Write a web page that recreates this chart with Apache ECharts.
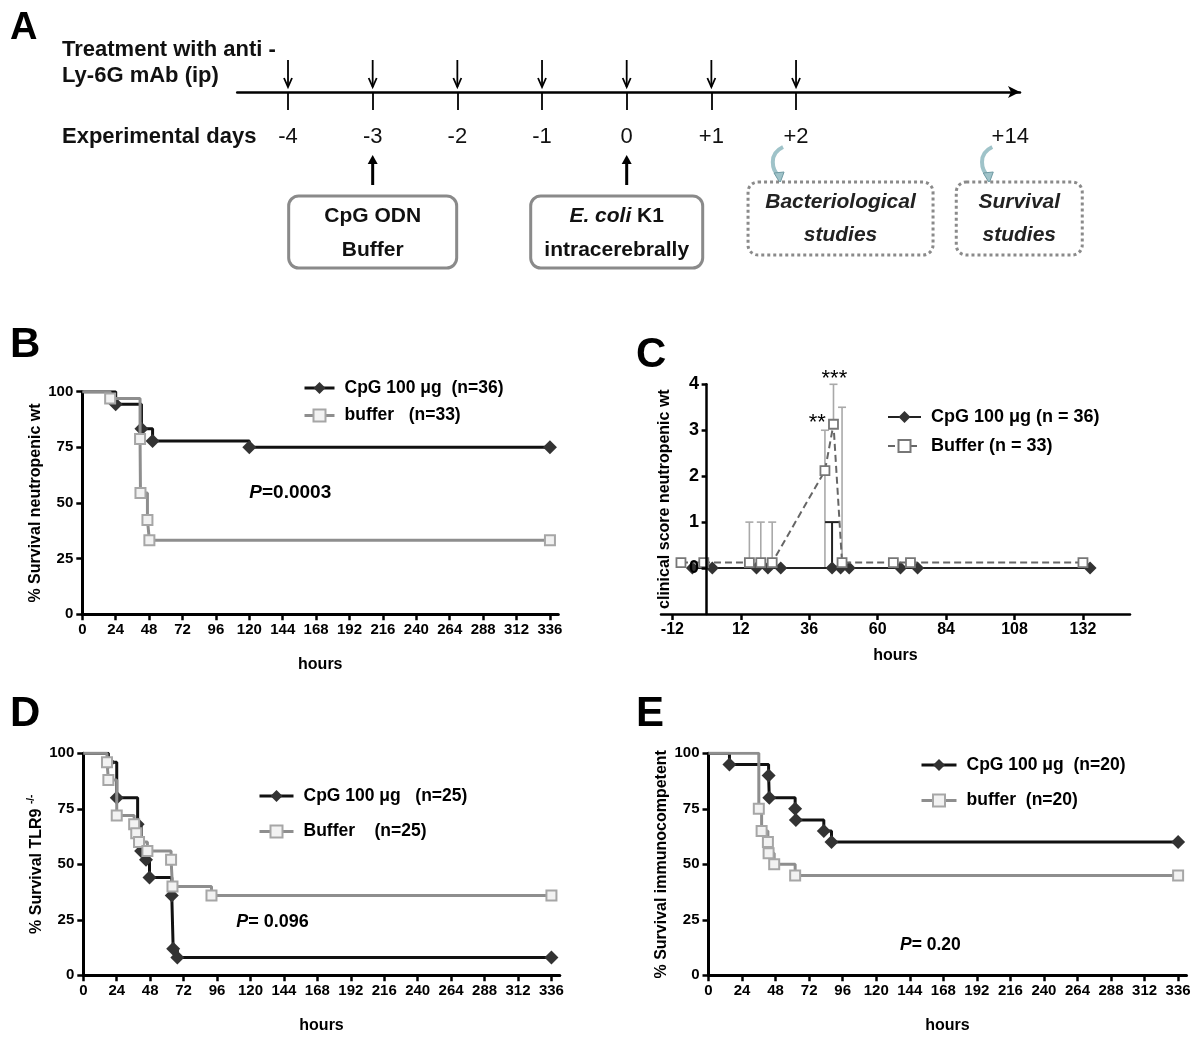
<!DOCTYPE html>
<html><head><meta charset="utf-8">
<script src="https://cdn.jsdelivr.net/npm/echarts@6/dist/echarts.min.js"></script>
<style>html,body{margin:0;padding:0;background:#fff}#c{width:1200px;height:1048px}</style>
</head><body><div id="c"></div>
<script>
// ---------- DATA ----------
// Panel A (timeline schematic)
const dayLabels = ['-4','-3','-2','-1','0','+1','+2','+14'];
const dayValues = [-4,-3,-2,-1,0,1,2,14];
const antibodyDays = [-4,-3,-2,-1,0,1,2];
const interventionDays = [-3,0];
const interventionText = [['CpG ODN','Buffer'],['{i|E. coli} K1','intracerebrally']];
const studyDays = [2,14];
const studyText = [['Bacteriological','studies'],['Survival','studies']];

// Survival axes
const survHourTicks = [0,24,48,72,96,120,144,168,192,216,240,264,288,312,336];
const survPctTicks = [0,25,50,75,100];

// Panel B
const bCpgHours = [0,24,42.5,50.5,120,336];
const bCpgSurv  = [100,94.4,83.3,77.8,75,75];
const bBufHours = [0,20,41.5,41.8,46.8,48.2,336];
const bBufSurv  = [100,97,78.8,54.5,42.4,33.3,33.3];
const bPText = ['P','=0.0003'];
const bPPos = [120,54.6];

// Panel C
const cHourTicks = [-12,12,36,60,84,108,132];
const cScoreTicks = [0,1,2,3,4];
const cCpgHours  = [-5,2,17.5,21.5,26,44,47,50,68,74,134.5];
const cCpgScore  = [0,0,0,0,0,0,0,0,0,0,0];
const cBufHours  = [-9,-1,15,19,23,41.5,44.5,47.5,65.5,71.5,132];
const cBufScore  = [0.12,0.12,0.12,0.12,0.12,2.12,3.13,0.12,0.12,0.12,0.12];
const cBufErrHours = [15,19,23,41.5,44.5,47.5];
const cBufErrLow   = [0.12,0.12,0.12,0,3.13,0.12];
const cBufErrHigh  = [1,1,1,3,4,3.5];
const cCpgErrHours = [44];
const cCpgErrLow   = [0];
const cCpgErrHigh  = [1];
const cStarHours = [38.8,44.8];
const cStarScore = [3.15,4.12];
const cStarText  = ['**','***'];

// Panel D
const dCpgHours = [0,18,24,39,41.5,45,47.5,63.5,64.5,67.5,336];
const dCpgSurv  = [100,96,80,68,56,52,44,36,12,8,8];
const dBufHours = [0,17,18,24,36.5,38,40,46,63,64,92,336];
const dBufSurv  = [100,96,88,72,68,64,60,56,52,40,36,36];
const dPText = ['P','= 0.096'];
const dPPos = [109.7,24];

// Panel E
const eCpgHours = [0,15,43,43.5,62,62.5,82.5,88,336];
const eCpgSurv  = [100,95,90,80,75,70,65,60,60];
const eBufHours = [0,36,38,42.5,43,47,62,336];
const eBufSurv  = [100,75,65,60,55,50,45,45];
const ePText = ['P','= 0.20'];
const ePPos = [137,13.6];

// ---------- STYLE ----------
const FONT = "'Liberation Sans',Arial,sans-serif";
const BLACK = '#111';
const DARK = '#333';
const GREY = '#8e8e8e';
const dayPos = d => d <= 2 ? d : 4.53;

const chart = echarts.init(document.getElementById('c'), null, {renderer:'canvas'});

function kmData(hours, vals){
  return hours.map((h,i)=> i===0 ? {value:[h,vals[i]], symbol:'none'} : [h,vals[i]]);
}
function txt(size, extra){ return Object.assign({color:'#000', fontFamily:FONT, fontWeight:'bold', fontSize:size}, extra||{}); }

function survX(gi, nameGap){
  return {type:'value', gridIndex:gi, min:0, max:342,
    axisLine:{onZero:false, lineStyle:{color:'#000', width:3}},
    axisTick:{customValues:survHourTicks, length:6, lineStyle:{color:'#000', width:2.5}},
    axisLabel:Object.assign({customValues:survHourTicks, margin:8}, txt(15)),
    splitLine:{show:false},
    name:'hours', nameLocation:'middle', nameGap:nameGap, nameTextStyle:txt(16)};
}
function survY(gi, name, nameGap, rich){
  return {type:'value', gridIndex:gi, min:0, max:100,
    axisLine:{onZero:false, lineStyle:{color:'#000', width:3}},
    axisTick:{customValues:survPctTicks, length:6, lineStyle:{color:'#000', width:2.5}},
    axisLabel:Object.assign({customValues:survPctTicks, margin:9}, txt(15)),
    splitLine:{show:false},
    name:name, nameLocation:'middle', nameGap:nameGap, nameRotate:90,
    nameTextStyle:txt(16, rich ? {rich:rich} : {})};
}
function cpgSeries(name, gi, hours, vals){
  return {type:'line', name:name, xAxisIndex:gi, yAxisIndex:gi, step:'end',
    data:kmData(hours, vals), symbol:'diamond', symbolSize:14,
    lineStyle:{color:BLACK, width:3}, itemStyle:{color:DARK}, z:3};
}
function bufSeries(name, gi, hours, vals){
  return {type:'line', name:name, xAxisIndex:gi, yAxisIndex:gi, step:'end',
    data:kmData(hours, vals), symbol:'rect', symbolSize:10,
    lineStyle:{color:GREY, width:3}, itemStyle:{color:'#f2f2f2', borderColor:'#a6a6a6', borderWidth:2}, z:4};
}
function pSeries(gi, pos, parts, size){
  return {type:'scatter', xAxisIndex:gi, yAxisIndex:gi, symbolSize:0, silent:true, clip:false,
    itemStyle:{opacity:1}, data:[pos],
    label:{show:true, position:'right', distance:0, color:'#000',
      formatter:'{i|'+parts[0]+'}{n|'+parts[1]+'}',
      rich:{i:txt(size,{fontStyle:'italic'}), n:txt(size)}}};
}
function legendFor(names, left, top, gap, iw, size, lw){
  return {show:true, data:names, orient:'vertical', left:left, top:top, itemGap:gap,
    itemWidth:iw, itemHeight:15, selectedMode:false, padding:0,
    lineStyle:{width:lw},
    textStyle:txt(size,{padding:[0,0,0,5]})};
}
function errRender(capHalf, color, width){
  return function(params, api){
    const x = api.value(0);
    const lo = api.coord([x, api.value(1)]);
    const hi = api.coord([x, api.value(2)]);
    return {type:'group', children:[
      {type:'line', shape:{x1:lo[0],y1:lo[1],x2:hi[0],y2:hi[1]}, style:{stroke:color, lineWidth:width}},
      {type:'line', shape:{x1:hi[0]-capHalf,y1:hi[1],x2:hi[0]+capHalf,y2:hi[1]}, style:{stroke:color, lineWidth:width}}
    ]};
  };
}

// Panel A renderers
function renderAntibody(params, api){
  const p = api.coord([api.value(0), 0]);
  const x = p[0], b = p[1];
  return {type:'group', children:[
    {type:'line', shape:{x1:x,y1:b-32,x2:x,y2:b-5}, style:{stroke:'#000', lineWidth:1.8}},
    {type:'polyline', shape:{points:[[x-4,b-14],[x,b-5],[x+4,b-14]]}, style:{stroke:'#000', lineWidth:1.8, fill:null}}
  ]};
}
const interventionBox = [{dx:-84, w:168}, {dx:-96, w:172}];
function renderIntervention(params, api){
  const p = api.coord([api.value(0), 0]);
  const x = p[0], b = p[1];
  const i = params.dataIndex;
  const bx = interventionBox[i];
  const t = interventionText[i];
  return {type:'group', children:[
    {type:'line', shape:{x1:x,y1:b+93,x2:x,y2:b+70}, style:{stroke:'#000', lineWidth:3}},
    {type:'polygon', shape:{points:[[x-5,b+72],[x+5,b+72],[x,b+63]]}, style:{fill:'#000'}},
    {type:'rect', shape:{x:x+bx.dx, y:b+104, width:bx.w, height:72, r:10}, style:{stroke:'#8a8a8a', lineWidth:3, fill:'#fff'}},
    {type:'text', style:{x:x+bx.dx+bx.w/2, y:b+124, text:t[0], align:'center', verticalAlign:'middle',
      fontFamily:FONT, fontWeight:'bold', fontSize:21, fill:'#111', rich:{i:{fontFamily:FONT, fontWeight:'bold', fontStyle:'italic', fontSize:21, fill:'#111'}}}},
    {type:'text', style:{x:x+bx.dx+bx.w/2, y:b+158, text:t[1], align:'center', verticalAlign:'middle',
      fontFamily:FONT, fontWeight:'bold', fontSize:21, fill:'#111'}}
  ]};
}
const studyBox = [{dx:-48, w:185}, {dx:-54, w:126}];
function renderStudy(params, api){
  const p = api.coord([api.value(0), 0]);
  const x = p[0], b = p[1];
  const i = params.dataIndex;
  const bx = studyBox[i];
  const t = studyText[i];
  const xc = x - 18 - (i===1 ? 5 : 0);
  return {type:'group', children:[
    {type:'bezierCurve', shape:{x1:xc+5,y1:b+55,cpx1:xc-10,cpy1:b+62,cpx2:xc-6,cpy2:b+78,x2:xc+1,y2:b+84}, style:{stroke:'#9fc3c9', lineWidth:4, fill:null}},
    {type:'polygon', shape:{points:[[xc-4,b+81],[xc+6,b+80],[xc+2,b+91]]}, style:{fill:'#9fc3c9', stroke:'#6f9aa3', lineWidth:1}},
    {type:'rect', shape:{x:x+bx.dx, y:b+90, width:bx.w, height:73, r:10}, style:{stroke:'#8a8a8a', lineWidth:3, lineDash:[3,3], fill:'#fff'}},
    {type:'text', style:{x:x+bx.dx+bx.w/2, y:b+110, text:t[0], align:'center', verticalAlign:'middle',
      fontFamily:FONT, fontWeight:'bold', fontStyle:'italic', fontSize:21, fill:'#222'}},
    {type:'text', style:{x:x+bx.dx+bx.w/2, y:b+143, text:t[1], align:'center', verticalAlign:'middle',
      fontFamily:FONT, fontWeight:'bold', fontStyle:'italic', fontSize:21, fill:'#222'}}
  ]};
}

const labelPosList = dayValues.map(dayPos);

const option = {
  animation:false,
  backgroundColor:'#fff',
  textStyle:{fontFamily:FONT},
  grid:[
    {left:237.2, top:40, width:782.8, height:52, outerBoundsMode:'none', containLabel:false},
    {left:82.3, top:391.7, width:476, height:222.6, outerBoundsMode:'none', containLabel:false},
    {left:661, top:384.3, width:469, height:229.7, outerBoundsMode:'none', containLabel:false},
    {left:83.3, top:753.3, width:476.5, height:222, outerBoundsMode:'none', containLabel:false},
    {left:708.5, top:753.3, width:478, height:222, outerBoundsMode:'none', containLabel:false}
  ],
  xAxis:[
    {type:'value', gridIndex:0, min:-4.6, max:4.645,
      axisLine:{onZero:false, symbol:['none','arrow'], symbolSize:[9,12], lineStyle:{color:'#000', width:2.5}},
      axisTick:{customValues:antibodyDays, length:18, lineStyle:{color:'#000', width:1.8}},
      axisLabel:{customValues:labelPosList, margin:34, color:'#111', fontFamily:FONT, fontSize:22,
        formatter:v=>{ const i = labelPosList.indexOf(v); return i>=0 ? dayLabels[i] : ''; }},
      splitLine:{show:false}},
    survX(1, 42),
    {type:'value', gridIndex:2, min:-16, max:148.5,
      axisLine:{onZero:false, lineStyle:{color:'#000', width:2.5}},
      axisTick:{customValues:cHourTicks, length:6, lineStyle:{color:'#000', width:2.5}},
      axisLabel:Object.assign({customValues:cHourTicks, margin:8}, txt(16)),
      splitLine:{show:false},
      name:'hours', nameLocation:'middle', nameGap:34, nameTextStyle:txt(16)},
    survX(3, 42),
    survX(4, 42)
  ],
  yAxis:[
    {type:'value', gridIndex:0, min:0, max:1, show:false},
    survY(1, '% Survival neutropenic wt', 39),
    {type:'value', gridIndex:2, min:-1, max:4, z:10,
      axisLine:{onZero:true, lineStyle:{color:'#000', width:2.5}},
      axisTick:{customValues:cScoreTicks, length:5, lineStyle:{color:'#000', width:2.5}},
      axisLabel:Object.assign({customValues:cScoreTicks, margin:-38}, txt(18)),
      splitLine:{show:false},
      name:'clinical score neutropenic wt', nameLocation:'middle', nameGap:-12, nameRotate:90, nameTextStyle:txt(16)},
    survY(3, '% Survival TLR9 {sup|-/-}', 37, {sup:{fontFamily:FONT, fontWeight:'bold', fontSize:10, color:'#000', verticalAlign:'top', padding:[0,0,10,0]}}),
    survY(4, '% Survival immunocompetent', 39)
  ],
  legend:[
    legendFor(['CpG 100 μg  (n=36)','buffer   (n=33)'], 303, 379, 9.5, 30, 17.5, 3),
    legendFor(['CpG 100 μg (n = 36)','Buffer (n = 33)'], 887, 408, 11, 33, 18, 2),
    legendFor(['CpG 100 μg   (n=25)','Buffer    (n=25)'], 258, 787, 17.5, 34, 17.5, 3),
    legendFor(['CpG 100 μg  (n=20)','buffer  (n=20)'], 920, 756, 17.5, 35, 17.5, 3)
  ],
  series:[
    // Panel A
    {type:'custom', xAxisIndex:0, yAxisIndex:0, clip:false, silent:true, renderItem:renderAntibody,
      data:antibodyDays.map(d=>[dayPos(d)]), encode:{x:0}},
    {type:'custom', xAxisIndex:0, yAxisIndex:0, clip:false, silent:true, renderItem:renderIntervention,
      data:interventionDays.map(d=>[dayPos(d)]), encode:{x:0}},
    {type:'custom', xAxisIndex:0, yAxisIndex:0, clip:false, silent:true, renderItem:renderStudy,
      data:studyDays.map(d=>[dayPos(d)]), encode:{x:0}},
    // Panel B
    cpgSeries('CpG 100 μg  (n=36)', 1, bCpgHours, bCpgSurv),
    bufSeries('buffer   (n=33)', 1, bBufHours, bBufSurv),
    pSeries(1, bPPos, bPText, 19),
    // Panel C
    {type:'custom', xAxisIndex:2, yAxisIndex:2, renderItem:errRender(4,'#a9a9a9',1.6), silent:true, z:1, clip:false,
      data:cBufErrHours.map((h,i)=>[h,cBufErrLow[i],cBufErrHigh[i]]), encode:{x:0, y:[1,2]}},
    {type:'custom', xAxisIndex:2, yAxisIndex:2, renderItem:errRender(7,'#222',2), silent:true, z:1, clip:false,
      data:cCpgErrHours.map((h,i)=>[h,cCpgErrLow[i],cCpgErrHigh[i]]), encode:{x:0, y:[1,2]}},
    {type:'line', name:'CpG 100 μg (n = 36)', xAxisIndex:2, yAxisIndex:2,
      data:cCpgHours.map((h,i)=>[h,cCpgScore[i]]), symbol:'diamond', symbolSize:13,
      lineStyle:{color:'#222', width:2}, itemStyle:{color:DARK}, z:3},
    {type:'line', name:'Buffer (n = 33)', xAxisIndex:2, yAxisIndex:2,
      data:cBufHours.map((h,i)=>[h,cBufScore[i]]), symbol:'rect', symbolSize:9,
      lineStyle:{color:'#666', width:2, type:[7,4]}, itemStyle:{color:'#fff', borderColor:'#777', borderWidth:1.8}, z:4},
    {type:'scatter', xAxisIndex:2, yAxisIndex:2, symbolSize:0, silent:true, clip:false, itemStyle:{opacity:1},
      data:cStarHours.map((h,i)=>[h,cStarScore[i],cStarText[i]]),
      label:{show:true, position:'inside', formatter:p=>p.value[2], color:'#000', fontFamily:FONT, fontSize:22}},
    // Panel D
    cpgSeries('CpG 100 μg   (n=25)', 3, dCpgHours, dCpgSurv),
    bufSeries('Buffer    (n=25)', 3, dBufHours, dBufSurv),
    pSeries(3, dPPos, dPText, 18),
    // Panel E
    cpgSeries('CpG 100 μg  (n=20)', 4, eCpgHours, eCpgSurv),
    bufSeries('buffer  (n=20)', 4, eBufHours, eBufSurv),
    pSeries(4, ePPos, ePText, 17.5)
  ],
  graphic:[
    {type:'text', left:10, top:10, style:{text:'A', fontFamily:FONT, fontWeight:'bold', fontSize:38, fill:'#000'}},
    {type:'text', left:62, top:39, style:{text:'Treatment with anti -', fontFamily:FONT, fontWeight:'bold', fontSize:22, fill:'#111'}},
    {type:'text', left:62, top:65, style:{text:'Ly-6G mAb (ip)', fontFamily:FONT, fontWeight:'bold', fontSize:22, fill:'#111'}},
    {type:'text', left:62, top:126, style:{text:'Experimental days', fontFamily:FONT, fontWeight:'bold', fontSize:22, fill:'#111'}},
    {type:'text', left:10, top:324, style:{text:'B', fontFamily:FONT, fontWeight:'bold', fontSize:42, fill:'#000'}},
    {type:'text', left:636, top:334, style:{text:'C', fontFamily:FONT, fontWeight:'bold', fontSize:42, fill:'#000'}},
    {type:'text', left:10, top:693, style:{text:'D', fontFamily:FONT, fontWeight:'bold', fontSize:42, fill:'#000'}},
    {type:'text', left:636, top:693, style:{text:'E', fontFamily:FONT, fontWeight:'bold', fontSize:42, fill:'#000'}}
  ]
};
chart.setOption(option);
</script>
</body></html>
